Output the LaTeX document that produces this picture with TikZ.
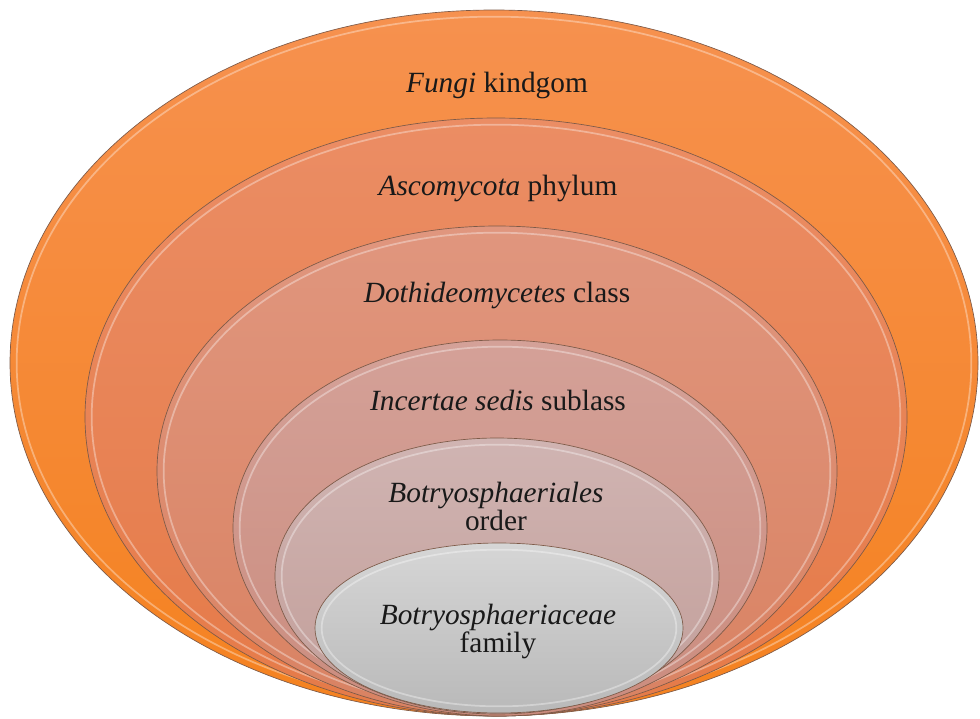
\documentclass[tikz,border=0pt]{standalone}
\usepackage{fontspec}
\setmainfont{Liberation Serif}
\newfontfamily\rankfont{Liberation Serif}
\usetikzlibrary{shapes.geometric,calc}
\definecolor{kingTop}{HTML}{F6914F}
\definecolor{kingBot}{HTML}{F5821F}
\definecolor{phylTop}{HTML}{EB8D64}
\definecolor{phylBot}{HTML}{E57A48}
\definecolor{clasTop}{HTML}{E0967E}
\definecolor{clasBot}{HTML}{D98262}
\definecolor{subcTop}{HTML}{D4A198}
\definecolor{subcBot}{HTML}{CB8C7E}
\definecolor{ordrTop}{HTML}{D0B4B2}
\definecolor{ordrBot}{HTML}{C29E99}
\definecolor{famlTop}{HTML}{D6D6D6}
\definecolor{famlBot}{HTML}{B9B9B9}
\definecolor{rimDraw}{HTML}{7D5A48}
\newdimen\pxu \pxu=0.75pt
\tikzset{
  layer/.style={ellipse, draw=rimDraw, line width=0.5pt, inner sep=0pt, outer sep=0pt,
    path picture={
      \draw[white, opacity=.35, line width=1.3pt]
        let \p1=(path picture bounding box.north east),
            \p2=(path picture bounding box.center) in
        (\p2) ellipse [x radius={\x1-\x2-5pt}, y radius={\y1-\y2-5pt}];
    }},
  kingdom/.style={layer, top color=kingTop, bottom color=kingBot},
  phylum/.style ={layer, top color=phylTop, bottom color=phylBot},
  class/.style  ={layer, top color=clasTop, bottom color=clasBot},
  subclass/.style={layer, top color=subcTop, bottom color=subcBot},
  order/.style  ={layer, top color=ordrTop, bottom color=ordrBot},
  family/.style ={layer, top color=famlTop, bottom color=famlBot},
  rank/.style   ={align=center, font=\rankfont\fontsize{22}{21}\selectfont, text=black!90, inner sep=0pt},
}
\begin{document}
\begin{tikzpicture}[x=0.75pt, y=-0.75pt]
  \useasboundingbox (0,0) rectangle (980,718);

  % nested ranks, all resting on the same bottom point
  \node[kingdom,  minimum width=968\pxu, minimum height=706\pxu] (fungi) at (494,363) {};
  \node[phylum,   minimum width=822\pxu, minimum height=598\pxu] (asco)  at (496,417) {};
  \node[class,    minimum width=680\pxu, minimum height=490\pxu] (doth)  at (497,471) {};
  \node[subclass, minimum width=534\pxu, minimum height=376\pxu] (inc)   at (500,528) {};
  \node[order,    minimum width=444\pxu, minimum height=276\pxu] (bord)  at (497,576) {};
  \node[family,   minimum width=368\pxu, minimum height=170\pxu] (bfam)  at (499,628) {};

  % labels
  \node[rank, anchor=base] (tfungi) at (497,92)  {\textit{Fungi} kindgom};
  \node[rank, anchor=base] (tasco)  at (498,195) {\textit{Ascomycota} phylum};
  \node[rank, anchor=base] (tdoth)  at (497,302) {\textit{Dothideomycetes} class};
  \node[rank, anchor=base] (tinc)   at (498,410) {\textit{Incertae sedis} sublass};
  \node[rank] (tbord) at (496,506) {\textit{Botryosphaeriales}\\order};
  \node[rank] (tbfam) at (498,631) {\textit{Botryosphaeriaceae}\\family};
\end{tikzpicture}
\end{document}
